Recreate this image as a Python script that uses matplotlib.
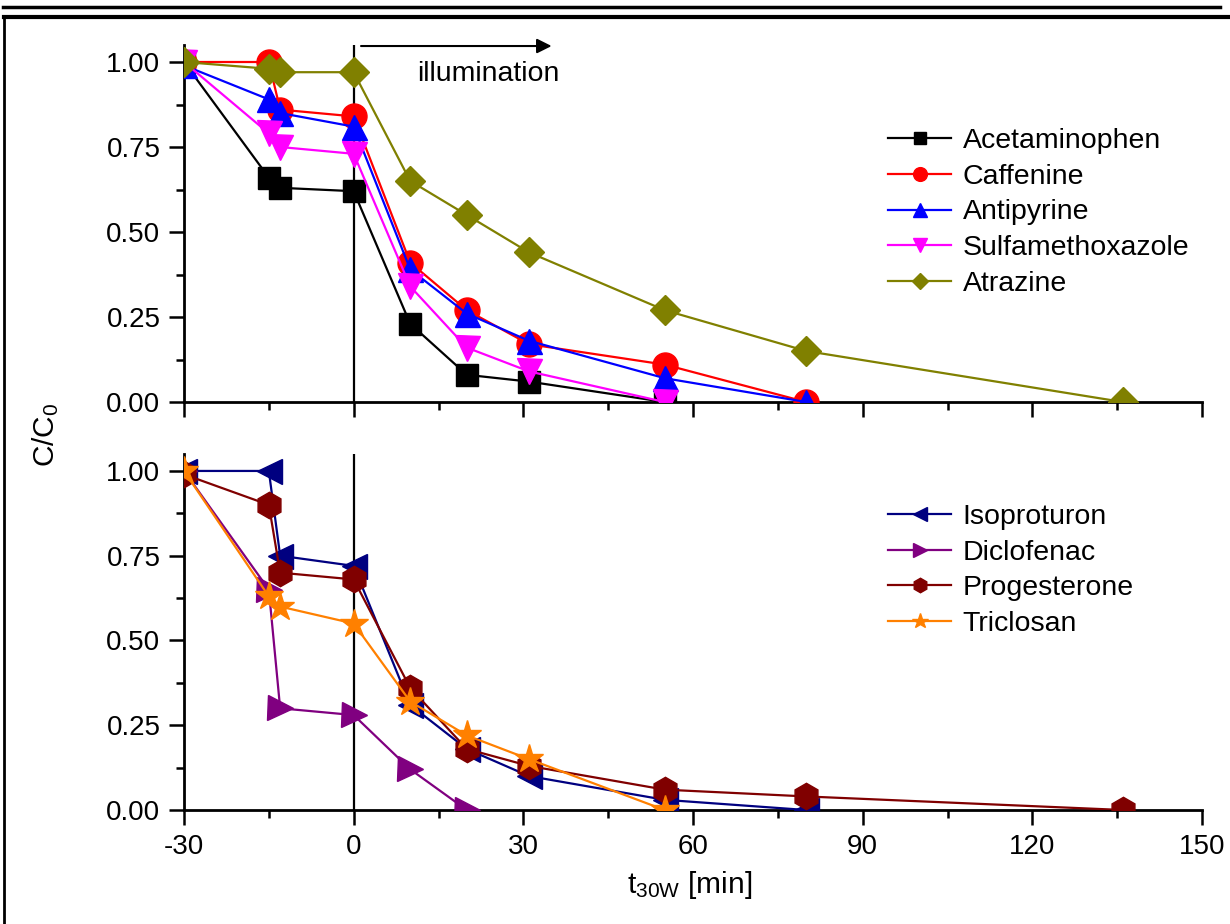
import matplotlib
matplotlib.use('Agg')
import matplotlib.pyplot as plt
from matplotlib.lines import Line2D
from matplotlib.ticker import MultipleLocator, FormatStrFormatter

plt.rcParams['font.family'] = ['Liberation Sans', 'DejaVu Sans']
plt.rcParams['mathtext.default'] = 'regular'
plt.rcParams['axes.unicode_minus'] = False

# sampling times [min]
t_top = [-30, -15, -13, 0, 10, 20, 31, 55, 80, 136]
t_bot = [-30, -15, -13, 0, 10, 20, 31, 55, 80, 136]

# top panel
acetaminophen = [1.00, 0.66, 0.63, 0.62, 0.23, 0.08, 0.06, 0.00]
caffenine = [1.00, 1.00, 0.86, 0.84, 0.41, 0.27, 0.17, 0.11, 0.00]
antipyrine = [0.99, 0.89, 0.85, 0.81, 0.39, 0.26, 0.18, 0.07, 0.00]
sulfamethoxazole = [1.00, 0.79, 0.75, 0.73, 0.34, 0.16, 0.09, 0.00]
atrazine = [1.00, 0.98, 0.97, 0.97, 0.65, 0.55, 0.44, 0.27, 0.15, 0.00]

# bottom panel
isoproturon = [1.00, 1.00, 0.75, 0.72, 0.31, 0.18, 0.10, 0.03, 0.00]
diclofenac = [1.00, 0.65, 0.30, 0.28, 0.12, 0.00]
progesterone = [0.99, 0.90, 0.70, 0.68, 0.36, 0.18, 0.13, 0.06, 0.04, 0.00]
triclosan = [1.00, 0.63, 0.60, 0.55, 0.32, 0.22, 0.15, 0.00]

top_series = [
    ('Acetaminophen', acetaminophen, 'black', 's', 16),
    ('Caffenine', caffenine, '#FF0000', 'o', 18),
    ('Antipyrine', antipyrine, '#0000FF', '^', 18),
    ('Sulfamethoxazole', sulfamethoxazole, '#FF00FF', 'v', 18),
    ('Atrazine', atrazine, '#808000', 'D', 15),
]
bot_series = [
    ('Isoproturon', isoproturon, '#000080', '<', 18),
    ('Diclofenac', diclofenac, '#800080', '>', 18),
    ('Progesterone', progesterone, '#800000', 'h', 19),
    ('Triclosan', triclosan, '#FF8000', '*', 21),
]

fig = plt.figure(figsize=(12.3, 9.24), dpi=100)
W, H = 1230, 924
ax1 = fig.add_axes([184 / W, 1 - 402 / H, 1018 / W, 357 / H])
ax2 = fig.add_axes([184 / W, 1 - 810 / H, 1018 / W, 356 / H])


def style(ax, show_xlabels):
    ax.set_xlim(-30, 150)
    ax.set_ylim(0, 1.05)
    for s in ['top', 'right']:
        ax.spines[s].set_visible(False)
    for s in ['left', 'bottom']:
        ax.spines[s].set_linewidth(2)
    ax.xaxis.set_major_locator(MultipleLocator(30))
    ax.xaxis.set_minor_locator(MultipleLocator(15))
    ax.yaxis.set_major_locator(MultipleLocator(0.25))
    ax.yaxis.set_minor_locator(MultipleLocator(0.125))
    ax.yaxis.set_major_formatter(FormatStrFormatter('%.2f'))
    ax.tick_params(which='major', direction='out', length=11, width=1.8,
                   labelsize=20, pad=6)
    ax.tick_params(which='minor', direction='out', length=6, width=1.8)
    if not show_xlabels:
        ax.tick_params(axis='x', labelbottom=False)
    ax.axvline(0, color='black', lw=1.6, zorder=1)


for ax, series, t in [(ax1, top_series, t_top), (ax2, bot_series, t_bot)]:
    style(ax, ax is ax2)
    for name, vals, col, mk, ms in series:
        ax.plot(t[:len(vals)], vals, color=col, marker=mk, markersize=ms,
                lw=1.6, label=name, zorder=3)

leg_kw = dict(frameon=False, fontsize=20.5, handlelength=2.2, handletextpad=0.4,
              labelspacing=0.34, markerscale=0.55, borderpad=0, loc='upper left')
ax1.legend(bbox_to_anchor=(0.678, 0.807), **leg_kw)
ax2.legend(bbox_to_anchor=(0.678, 0.90), **leg_kw)

ax1.annotate('', xy=(35, 1.047), xytext=(1.3, 1.047), annotation_clip=False,
             arrowprops=dict(arrowstyle='-|>', color='black', lw=1.5,
                             mutation_scale=22, shrinkA=0, shrinkB=0))
ax1.text(11.2, 0.965, 'illumination', fontsize=20.5, ha='left', va='center')

fig.text(690 / W, 1 - 885 / H, 't$_{30W}$ [min]', fontsize=21.5, ha='center', va='center')
fig.text(46 / W, 1 - 435 / H, 'C/C$_0$', fontsize=21.5, ha='center', va='center',
         rotation=90)

# surrounding frame lines
fig.add_artist(Line2D([3 / W, 1220 / W], [1 - 7 / H, 1 - 7 / H], color='black', lw=2.5))
fig.add_artist(Line2D([4 / W, 1.0], [1 - 17 / H, 1 - 17 / H], color='black', lw=3))
fig.add_artist(Line2D([4 / W, 4 / W], [1 - 17 / H, 0], color='black', lw=2))

fig.savefig('out.png', dpi=100)
